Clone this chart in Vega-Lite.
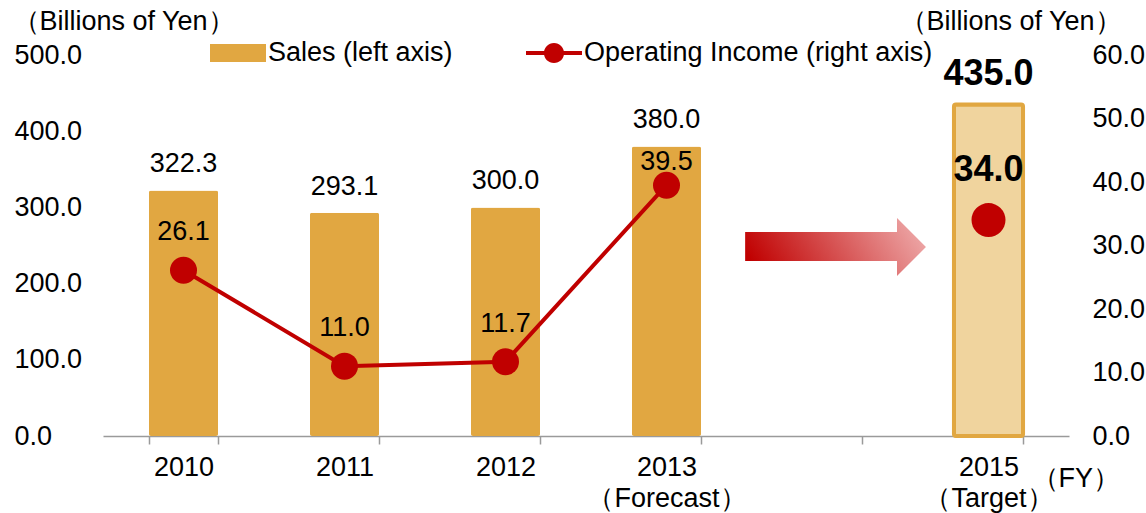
{
  "$schema": "https://vega.github.io/schema/vega-lite/v6.json",
  "width": 966,
  "height": 381,
  "autosize": {"type": "none"},
  "padding": {"left": 103, "top": 55, "right": 77, "bottom": 77},
  "config": {
    "font": "Liberation Sans",
    "view": {"stroke": null},
    "text": {"font": "Liberation Sans", "fontSize": 27, "color": "#000000"}
  },
  "data": {
    "values": [
      {"year": "2010", "sales": 322.3, "income": 26.1},
      {"year": "2011", "sales": 293.1, "income": 11.0},
      {"year": "2012", "sales": 300.0, "income": 11.7},
      {"year": "2013", "sales": 380.0, "income": 39.5},
      {"year": "2015", "sales": 435.0, "income": 34.0}
    ]
  },
  "encoding": {
    "x": {
      "field": "year",
      "type": "nominal",
      "scale": {
        "domain": ["2010", "2011", "2012", "2013", "2014", "2015"],
        "paddingInner": 0.571,
        "paddingOuter": 0.2855
      },
      "axis": {
        "title": "（FY）",
        "titleFontSize": 27,
        "titleFontWeight": "normal",
        "titleColor": "#000000",
        "titleAlign": "left",
        "titleBaseline": "middle",
        "titleX": 928,
        "titleY": 42,
        "labelAngle": 0,
        "labelFontSize": 27,
        "labelColor": "#000000",
        "labelPadding": 10,
        "labelLineHeight": 31,
        "labelExpr": "datum.value == '2013' ? ['2013', '（Forecast）'] : datum.value == '2015' ? ['2015', '（Target）'] : datum.value == '2014' ? '' : datum.value",
        "tickBand": "extent",
        "tickSize": 8,
        "tickColor": "#9a9a9a",
        "tickWidth": 1.5,
        "domainColor": "#9a9a9a",
        "domainWidth": 1.5,
        "grid": false
      }
    }
  },
  "layer": [
    {
      "encoding": {
        "y": {
          "field": "sales",
          "type": "quantitative",
          "scale": {"domain": [0, 500], "nice": false},
          "axis": {
            "title": "（Billions of Yen）",
            "titleFontSize": 27,
            "titleFontWeight": "normal",
            "titleColor": "#000000",
            "titleAngle": 0,
            "titleAlign": "left",
            "titleBaseline": "middle",
            "titleX": -91,
            "titleY": -34,
            "values": [0, 100, 200, 300, 400, 500],
            "format": ".1f",
            "labelFontSize": 27,
            "labelColor": "#000000",
            "labelAlign": "left",
            "labelPadding": 89,
            "domain": false,
            "ticks": false,
            "grid": false
          }
        }
      },
      "layer": [
        {
          "mark": {"type": "bar", "cornerRadius": 2},
          "encoding": {
            "fill": {
              "condition": {"test": "datum.year === '2015'", "value": "#F0D49E"},
              "value": "#E1A741"
            },
            "stroke": {"value": "#E1A741"},
            "strokeWidth": {
              "condition": {"test": "datum.year === '2015'", "value": 4},
              "value": 0
            }
          }
        },
        {
          "transform": [{"filter": "datum.year !== '2015'"}],
          "mark": {"type": "text", "baseline": "middle", "dy": -26, "fontSize": 27},
          "encoding": {
            "text": {"field": "sales", "type": "quantitative", "format": ".1f"}
          }
        },
        {
          "transform": [{"filter": "datum.year === '2015'"}],
          "mark": {"type": "text", "baseline": "middle", "dy": -31, "fontSize": 36, "fontWeight": "bold"},
          "encoding": {
            "text": {"field": "sales", "type": "quantitative", "format": ".1f"}
          }
        },
        {
          "data": {"values": [{"year": "2014", "sales": 248}]},
          "mark": {
            "type": "point",
            "shape": "M-0.91,-0.166L0.768,-0.166L0.768,-0.32L1.088,0L0.768,0.32L0.768,0.155L-0.91,0.155Z",
            "size": 32761,
            "filled": true,
            "opacity": 1,
            "strokeWidth": 0,
            "fill": {
              "gradient": "linear",
              "x1": 0, "y1": 0.6, "x2": 1, "y2": 0.4,
              "stops": [
                {"offset": 0, "color": "#C00000"},
                {"offset": 1, "color": "#EDA6A6"}
              ]
            }
          }
        }
      ]
    },
    {
      "encoding": {
        "y": {
          "field": "income",
          "type": "quantitative",
          "scale": {"domain": [0, 60], "nice": false},
          "axis": {
            "orient": "right",
            "title": "（Billions of Yen）",
            "titleFontSize": 27,
            "titleFontWeight": "normal",
            "titleColor": "#000000",
            "titleAngle": 0,
            "titleAlign": "left",
            "titleBaseline": "middle",
            "titleX": -170,
            "titleY": -34,
            "values": [0, 10, 20, 30, 40, 50, 60],
            "format": ".1f",
            "labelFontSize": 27,
            "labelColor": "#000000",
            "labelAlign": "left",
            "labelPadding": 23,
            "domain": false,
            "ticks": false,
            "grid": false
          }
        }
      },
      "layer": [
        {
          "transform": [{"filter": "datum.year !== '2015'"}],
          "mark": {"type": "line", "strokeWidth": 4},
          "encoding": {
            "color": {
              "datum": "Operating Income (right axis)",
              "scale": {
                "domain": ["Sales (left axis)", "Operating Income (right axis)"],
                "range": ["#E1A741", "#C00000"]
              },
              "legend": {
                "orient": "none",
                "legendX": 107,
                "legendY": -30,
                "direction": "horizontal",
                "title": null,
                "padding": 0,
                "symbolSize": 3136,
                "symbolOffset": 0,
                "symbolStrokeWidth": 0,
                "labelFontSize": 27,
                "labelColor": "#000000",
                "labelOffset": 2,
                "labelLimit": 600,
                "columnPadding": 73,
                "encode": {
                  "symbols": {
                    "update": {
                      "shape": {"signal": "datum.value === 'Sales (left axis)' ? 'M-1,-0.32H1V0.32H-1Z' : 'M-1,-0.07H1V0.07H-1Z M0.36,0A0.36,0.36 0 1 1 -0.36,0A0.36,0.36 0 1 1 0.36,0Z'"},
                      "fill": {"signal": "datum.value === 'Sales (left axis)' ? '#E1A741' : '#C00000'"},
                      "strokeWidth": {"value": 0},
                      "opacity": {"value": 1}
                    }
                  }
                }
              }
            }
          }
        },
        {
          "mark": {"type": "point", "filled": true, "opacity": 1, "color": "#C00000"},
          "encoding": {
            "size": {
              "condition": {"test": "datum.year === '2015'", "value": 1156},
              "value": 729
            }
          }
        },
        {
          "transform": [{"filter": "datum.year !== '2015' && datum.year !== '2013'"}],
          "mark": {"type": "text", "baseline": "middle", "dy": -38, "fontSize": 27},
          "encoding": {
            "text": {"field": "income", "type": "quantitative", "format": ".1f"}
          }
        },
        {
          "transform": [{"filter": "datum.year === '2013'"}],
          "mark": {"type": "text", "baseline": "middle", "dy": -23, "fontSize": 27},
          "encoding": {
            "text": {"field": "income", "type": "quantitative", "format": ".1f"}
          }
        },
        {
          "transform": [{"filter": "datum.year === '2015'"}],
          "mark": {"type": "text", "baseline": "middle", "dy": -50, "fontSize": 36, "fontWeight": "bold"},
          "encoding": {
            "text": {"field": "income", "type": "quantitative", "format": ".1f"}
          }
        }
      ]
    }
  ],
  "resolve": {"scale": {"y": "independent"}}
}
